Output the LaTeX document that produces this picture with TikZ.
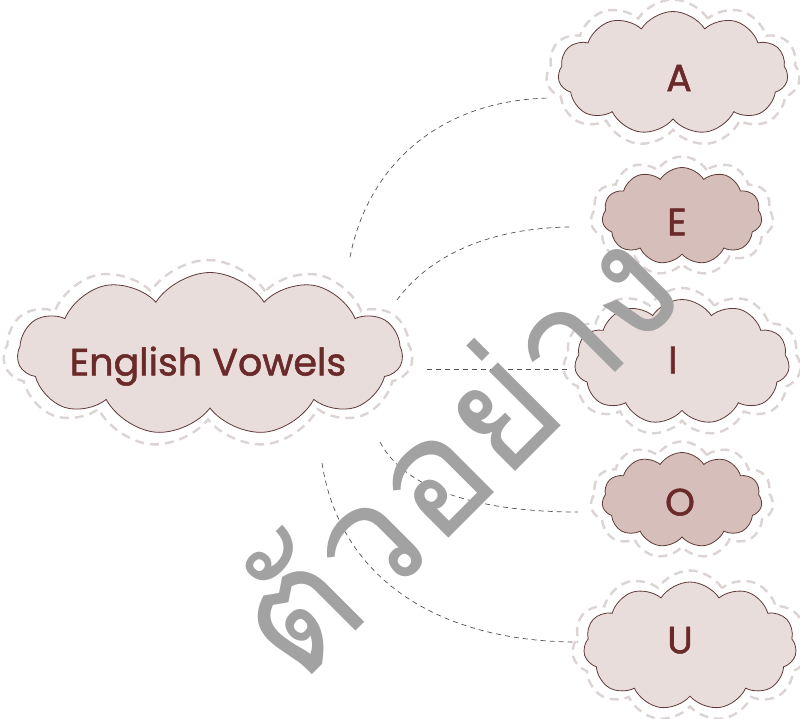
\documentclass[tikz,border=0pt]{standalone}
\usepackage{fontspec}
\setmainfont{Poppins}
\newfontfamily\vowelfont[FakeBold=1.4]{Poppins}
\newfontfamily\thaifont[Script=Thai]{Loma}
\usetikzlibrary{shapes.symbols}
\definecolor{cloudlight}{HTML}{E9DDDB}
\definecolor{clouddark}{HTML}{D6BFBA}
\definecolor{cloudedge}{HTML}{5E3A38}
\definecolor{halo}{HTML}{DCD3D3}
\definecolor{txt}{HTML}{6B2A2A}
\definecolor{conncol}{HTML}{5C4F4F}
\definecolor{wmark}{HTML}{A2A2A2}
\begin{document}
\begin{tikzpicture}[x=1pt,y=-1pt,
  cloudbox/.style={cloud, cloud puffs=11, cloud puff arc=115, cloud ignores aspect,
    draw=cloudedge, line width=0.8pt, inner sep=0pt},
  haloring/.style={cloud, cloud puffs=11, cloud puff arc=115, cloud ignores aspect,
    draw=halo, line width=2.4pt, dash pattern=on 9pt off 6pt, inner sep=0pt},
  lbl/.style={text=txt, font=\vowelfont\fontsize{38}{40}\selectfont, inner sep=0pt, text depth=0pt},
  conn/.style={draw=conncol, line width=0.7pt, dash pattern=on 5pt off 4pt}]
\useasboundingbox (0,0) rectangle (800,718);

% halos
\node[haloring, minimum width=409pt, minimum height=188pt] (mainH) at (208,354) {};
\node[haloring, minimum width=254pt, minimum height=147pt] (AH) at (673,73) {};
\node[haloring, minimum width=183pt, minimum height=119pt] (EH) at (682,216) {};
\node[haloring, minimum width=238pt, minimum height=148pt] (IH) at (682,362) {};
\node[haloring, minimum width=183pt, minimum height=117pt] (OH) at (682,500) {};
\node[haloring, minimum width=236pt, minimum height=151pt] (UH) at (690,646) {};

% clouds
\node[cloudbox, fill=cloudlight, minimum width=385pt, minimum height=163pt,
  label={[lbl, xshift=-2pt, yshift=-7pt]center:English Vowels}] (main) at (210,354) {};
\node[cloudbox, fill=cloudlight, minimum width=230pt, minimum height=123pt,
  label={[lbl, xshift=6pt, yshift=-5pt]center:A}] (A) at (673,73) {};
\node[cloudbox, fill=clouddark, minimum width=160pt, minimum height=97pt,
  label={[lbl, xshift=-5pt, yshift=-6pt]center:E}] (E) at (682,216) {};
\node[cloudbox, fill=cloudlight, minimum width=215pt, minimum height=125pt,
  label={[lbl, xshift=-9pt, yshift=2pt]center:I}] (I) at (682,362) {};
\node[cloudbox, fill=clouddark, minimum width=160pt, minimum height=95pt,
  label={[lbl, xshift=-2pt, yshift=-2pt]center:O}] (O) at (682,500) {};
\node[cloudbox, fill=cloudlight, minimum width=213pt, minimum height=128pt,
  label={[lbl, xshift=-10pt, yshift=6pt]center:U}] (U) at (690,646) {};

% connector ends
\coordinate (mA) at (350,257); \coordinate (tA) at (550,98);
\coordinate (mE) at (397,300); \coordinate (tE) at (570,227);
\coordinate (mI) at (427,369); \coordinate (tI) at (570,369);
\coordinate (mO) at (380,442); \coordinate (tO) at (578,512);
\coordinate (mU) at (322,463); \coordinate (tU) at (578,642);

\draw[conn] (mA) .. controls (368,165) and (440,100) .. (tA);
\draw[conn] (mE) .. controls (430,255) and (490,228) .. (tE);
\draw[conn] (mI) -- (tI);
\draw[conn] (mO) .. controls (405,490) and (480,512) .. (tO);
\draw[conn] (mU) .. controls (340,580) and (440,642) .. (tU);

% watermark
\node[rotate=45, text=wmark, font=\thaifont\fontsize{160}{160}\selectfont, inner sep=0pt]
  (wm) at (450,448) {ตัวอย่าง};
\end{tikzpicture}
\end{document}
